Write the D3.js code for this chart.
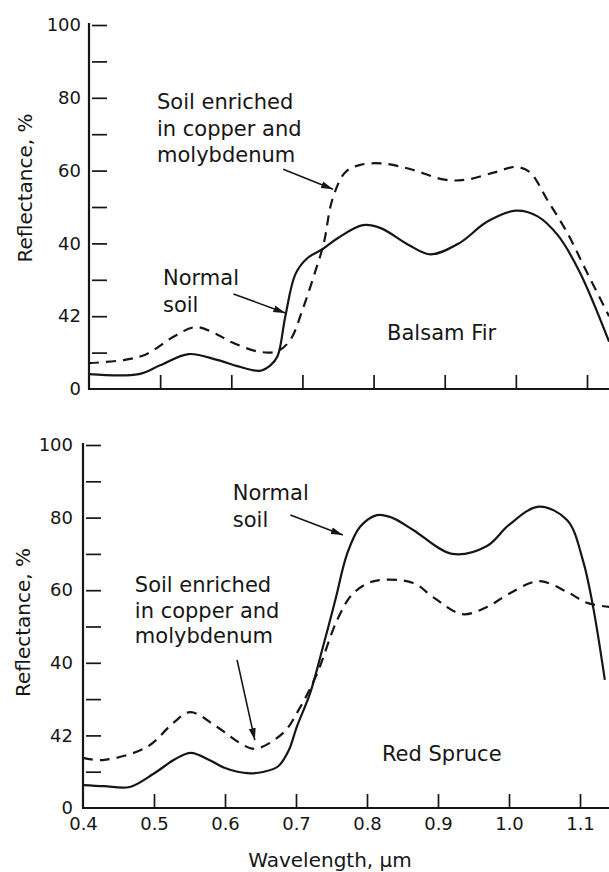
<!DOCTYPE html>
<html>
<head>
<meta charset="utf-8">
<script src="https://cdn.jsdelivr.net/npm/d3@7"></script>
<style>
body { margin: 0; background: #fff; }
svg { display: block; font-family: "DejaVu Sans", sans-serif; }
</style>
</head>
<body>
<script>
// values, [wavelength in µm, reflectance in %]
var firNormal = [[0.40,4.1],[0.47,4.1],[0.50,6.5],[0.54,9.6],[0.58,8.0],[0.61,6.2],[0.64,5.0],
  [0.655,6.5],[0.665,9],[0.676,20],[0.69,31.5],[0.706,35.8],[0.728,38.4],[0.75,41.5],[0.785,45],
  [0.81,44.2],[0.85,39.5],[0.88,37],[0.92,40],[0.96,46],[1.0,49],[1.03,47.5],[1.06,42],[1.09,32],[1.131,13]];
var firEnriched = [[0.40,7.1],[0.45,8.0],[0.48,9.5],[0.52,14.5],[0.55,17],[0.58,15],[0.60,12.9],
  [0.64,10.2],[0.665,10.4],[0.683,13.5],[0.70,21.7],[0.72,33.5],[0.73,40],[0.742,52],[0.76,59.5],
  [0.78,61.5],[0.81,62],[0.85,60.5],[0.90,57.5],[0.93,57.5],[0.97,59.5],[1.0,61],[1.02,59.5],
  [1.044,52],[1.072,43],[1.10,32],[1.131,20]];
var spruceNormal = [[0.40,6.3],[0.43,6],[0.466,5.8],[0.50,9.5],[0.53,13.5],[0.552,15.2],[0.58,13],
  [0.60,11],[0.631,9.6],[0.655,10],[0.675,11.5],[0.69,16],[0.701,22.3],[0.72,31.7],[0.738,44.4],
  [0.755,57],[0.772,70],[0.79,77.4],[0.814,80.7],[0.835,80],[0.865,76.6],[0.92,70],[0.969,72.2],
  [1.0,78],[1.042,83],[1.082,79.3],[1.104,68.3],[1.118,55.9],[1.135,35.3]];
var spruceEnriched = [[0.40,13.8],[0.428,13.2],[0.49,16.8],[0.527,23.4],[0.551,26.4],[0.589,22.3],
  [0.621,17.9],[0.642,16.3],[0.682,20.7],[0.706,27.8],[0.73,37.2],[0.758,51.8],[0.78,59],[0.81,62.5],
  [0.865,62],[0.893,58.1],[0.934,53.4],[0.969,55.4],[1.0,59],[1.042,62.5],[1.082,59.5],[1.11,56.5],[1.141,55.4]];

var yTickValues = [0, 20, 40, 60, 80, 100];
var yTickLabels = ["0", "42", "40", "60", "80", "100"];   // "42" as printed
var yMinorTicks = [10, 20, 30, 40, 50, 60, 70, 80, 90, 100];
var xTickValues = [0.4, 0.5, 0.6, 0.7, 0.8, 0.9, 1.0, 1.1];
var xTickLabels = ["0.4", "0.5", "0.6", "0.7", "0.8", "0.9", "1.0", "1.1"];

var width = 609, height = 872;
var ink = "#161616";

var svg = d3.select("body").append("svg")
  .attr("width", width)
  .attr("height", height);

svg.append("defs").append("marker")
  .attr("id", "head")
  .attr("viewBox", "0 -5 12 10")
  .attr("refX", 12).attr("refY", 0)
  .attr("markerWidth", 12).attr("markerHeight", 10)
  .attr("markerUnits", "userSpaceOnUse")
  .attr("orient", "auto")
  .append("path")
  .attr("d", "M0,-3.5L12,0L0,3.5Z")
  .attr("fill", ink);

function drawPanel(p) {
  var x = d3.scaleLinear().domain([0.4, 1.1]).range([p.left, p.right]);
  var y = d3.scaleLinear().domain([0, 100]).range([p.bottom, p.top]);
  var g = svg.append("g").style("color", ink);

  // y ticks point inward, with a small gap off the axis like the print
  g.append("g")
    .attr("transform", "translate(" + (p.left + 3) + ",0)")
    .call(d3.axisRight(y).tickValues(yMinorTicks).tickSize(15).tickFormat(""))
    .call(function(a) { a.select(".domain").remove(); a.selectAll("line").attr("stroke-width", 1.7); });

  g.append("g")
    .attr("transform", "translate(" + p.left + ",0)")
    .call(d3.axisLeft(y).tickValues(yTickValues).tickSize(0).tickPadding(p.labelPad)
      .tickFormat(function(d) { return yTickLabels[yTickValues.indexOf(d)]; }))
    .call(function(a) {
      a.select(".domain").remove();
      a.selectAll("text").attr("font-size", 18).attr("font-family", "DejaVu Sans").attr("fill", ink);
    });

  // x ticks point up into the plot
  g.append("g")
    .attr("transform", "translate(0," + p.bottom + ")")
    .call(d3.axisTop(x).tickValues(xTickValues.slice(1)).tickSize(14).tickFormat(""))
    .call(function(a) { a.select(".domain").remove(); a.selectAll("line").attr("stroke-width", 1.7); });

  if (p.xLabels) {
    g.append("g")
      .attr("transform", "translate(0," + p.bottom + ")")
      .call(d3.axisBottom(x).tickValues(xTickValues).tickSize(0).tickPadding(9)
        .tickFormat(function(d, i) { return xTickLabels[i]; }))
      .call(function(a) {
        a.select(".domain").remove();
        a.selectAll("text").attr("font-size", 18).attr("font-family", "DejaVu Sans").attr("fill", ink);
      });
  }

  // frame: left axis and bottom axis running off the right edge
  g.append("line").attr("x1", p.left).attr("x2", p.left).attr("y1", p.top - 2).attr("y2", p.bottom)
    .attr("stroke", ink).attr("stroke-width", 2.2);
  g.append("line").attr("x1", p.left - 1).attr("x2", width).attr("y1", p.bottom).attr("y2", p.bottom)
    .attr("stroke", ink).attr("stroke-width", 2.2);

  var line = d3.line()
    .x(function(d) { return x(d[0]); })
    .y(function(d) { return y(d[1]); })
    .curve(d3.curveCatmullRom.alpha(0.5));

  g.append("path").datum(p.enriched)
    .attr("d", line).attr("fill", "none").attr("stroke", ink)
    .attr("stroke-width", 2.2).attr("stroke-dasharray", "10,7");
  g.append("path").datum(p.normal)
    .attr("d", line).attr("fill", "none").attr("stroke", ink)
    .attr("stroke-width", 2.2);

  // annotations
  p.notes.forEach(function(n) {
    var t = g.append("text")
      .attr("x", x(n.at[0])).attr("y", y(n.at[1]))
      .attr("font-size", 21).attr("fill", ink);
    n.lines.forEach(function(s, i) {
      t.append("tspan").attr("x", x(n.at[0])).attr("dy", i ? n.lead : 0).text(s);
    });
  });
  p.arrows.forEach(function(a) {
    g.append("line")
      .attr("x1", x(a[0][0])).attr("y1", y(a[0][1]))
      .attr("x2", x(a[1][0])).attr("y2", y(a[1][1]))
      .attr("stroke", ink).attr("stroke-width", 1.6)
      .attr("marker-end", "url(#head)");
  });

  svg.append("text")
    .attr("transform", "translate(" + p.titleX + "," + ((p.top + p.bottom) / 2 + p.titleShift) + ") rotate(-90)")
    .attr("text-anchor", "middle")
    .attr("font-size", 20).attr("fill", ink)
    .text("Reflectance, %");
}

drawPanel({
  left: 89, right: 587, top: 25, bottom: 389, labelPad: 8, xLabels: false,
  titleX: 32, titleShift: -19,
  normal: firNormal, enriched: firEnriched,
  notes: [
    { at: [0.4956, 76.9], lead: 26.5, lines: ["Soil enriched", "in copper and", "molybdenum"] },
    { at: [0.504, 28.6], lead: 27, lines: ["Normal", "soil"] },
    { at: [0.819, 13.5], lead: 0, lines: ["Balsam Fir"] }
  ],
  arrows: [
    [[0.673, 60.4], [0.743, 54.9]],
    [[0.603, 26.1], [0.676, 20.9]]
  ]
});

drawPanel({
  left: 83, right: 580, top: 445, bottom: 808, labelPad: 10, xLabels: true,
  titleX: 30, titleShift: -4,
  normal: spruceNormal, enriched: spruceEnriched,
  notes: [
    { at: [0.611, 84.8], lead: 27, lines: ["Normal", "soil"] },
    { at: [0.473, 59.5], lead: 25.5, lines: ["Soil enriched", "in copper and", "molybdenum"] },
    { at: [0.821, 12.9], lead: 0, lines: ["Red Spruce"] }
  ],
  arrows: [
    [[0.692, 80.7], [0.766, 75.2]],
    [[0.617, 40.8], [0.642, 18.7]]
  ]
});

svg.append("text")
  .attr("x", 330).attr("y", 867)
  .attr("text-anchor", "middle")
  .attr("font-size", 20).attr("fill", ink)
  .text("Wavelength, µm");
</script>
</body>
</html>
